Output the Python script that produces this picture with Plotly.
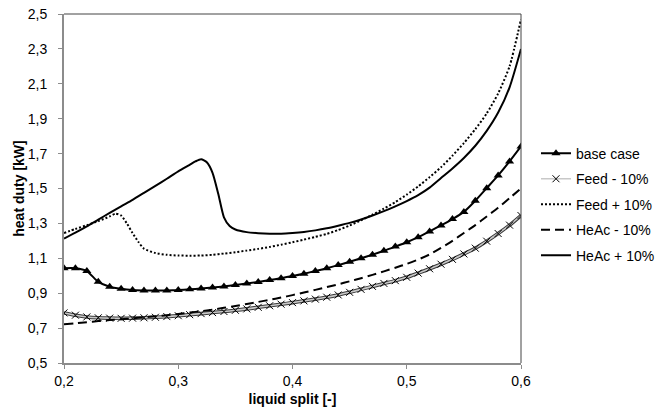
import plotly.graph_objects as go

# liquid split values (x) for the 0.01-step series
split = [round(0.20 + 0.01 * i, 2) for i in range(41)]

base_case = [1.043, 1.043, 1.027, 0.965, 0.937, 0.925, 0.918, 0.916, 0.915, 0.916,
             0.918, 0.922, 0.927, 0.933, 0.939, 0.947, 0.955, 0.964, 0.975, 0.986,
             0.999, 1.012, 1.027, 1.043, 1.061, 1.080, 1.100, 1.121, 1.143, 1.167,
             1.192, 1.221, 1.254, 1.288, 1.325, 1.366, 1.430, 1.502, 1.575, 1.655,
             1.741]

feed_minus = [0.787, 0.774, 0.764, 0.759, 0.757, 0.756, 0.757, 0.759, 0.762, 0.766,
              0.771, 0.777, 0.783, 0.789, 0.795, 0.802, 0.810, 0.819, 0.828, 0.837,
              0.846, 0.856, 0.866, 0.877, 0.890, 0.905, 0.922, 0.939, 0.956, 0.972,
              0.991, 1.015, 1.040, 1.066, 1.094, 1.125, 1.158, 1.198, 1.242, 1.290,
              1.345]

heac_minus = [0.722, 0.728, 0.734, 0.740, 0.746, 0.751, 0.756, 0.762, 0.768, 0.774,
              0.781, 0.789, 0.797, 0.806, 0.816, 0.827, 0.838, 0.850, 0.862, 0.875,
              0.889, 0.904, 0.919, 0.935, 0.951, 0.968, 0.986, 1.005, 1.025, 1.046,
              1.068, 1.093, 1.122, 1.160, 1.200, 1.245, 1.290, 1.340, 1.390, 1.445,
              1.500]

feed_plus_x = [0.20, 0.21, 0.22, 0.23, 0.24, 0.245, 0.25, 0.255, 0.26, 0.265, 0.27,
               0.28, 0.29, 0.30, 0.31, 0.32, 0.33, 0.34, 0.35, 0.36, 0.37, 0.38,
               0.39, 0.40, 0.41, 0.42, 0.43, 0.44, 0.45, 0.46, 0.47, 0.48, 0.49,
               0.50, 0.51, 0.52, 0.53, 0.54, 0.55, 0.56, 0.57, 0.58, 0.59, 0.60]
feed_plus = [1.245, 1.268, 1.290, 1.313, 1.340, 1.356, 1.345, 1.300, 1.245, 1.195, 1.155,
             1.130, 1.120, 1.116, 1.115, 1.116, 1.120, 1.127, 1.135, 1.144, 1.154, 1.165,
             1.178, 1.192, 1.207, 1.223, 1.240, 1.262, 1.288, 1.318, 1.350, 1.385, 1.422,
             1.465, 1.512, 1.565, 1.622, 1.688, 1.760, 1.840, 1.930, 2.045, 2.200, 2.470]

heac_plus_x = [0.20, 0.21, 0.22, 0.23, 0.24, 0.25, 0.26, 0.27, 0.28, 0.29, 0.30,
               0.31, 0.315, 0.32, 0.325, 0.33, 0.335, 0.34, 0.345, 0.35, 0.36, 0.37,
               0.38, 0.39, 0.40, 0.41, 0.42, 0.43, 0.44, 0.45, 0.46, 0.47, 0.48,
               0.49, 0.50, 0.51, 0.52, 0.53, 0.54, 0.55, 0.56, 0.57, 0.58, 0.59, 0.60]
heac_plus = [1.213, 1.247, 1.283, 1.322, 1.360, 1.398, 1.435, 1.475, 1.515, 1.556, 1.598,
             1.636, 1.655, 1.668, 1.650, 1.590, 1.470, 1.335, 1.285, 1.265, 1.250, 1.244,
             1.241, 1.241, 1.245, 1.251, 1.260, 1.272, 1.287, 1.303, 1.322, 1.345, 1.370,
             1.398, 1.428, 1.462, 1.505, 1.560, 1.615, 1.675, 1.745, 1.830, 1.935, 2.080,
             2.300]

x_ticks = [0.2, 0.3, 0.4, 0.5, 0.6]
y_ticks = [0.5, 0.7, 0.9, 1.1, 1.3, 1.5, 1.7, 1.9, 2.1, 2.3, 2.5]

FONT = "Liberation Sans, Arial, sans-serif"

fig = go.Figure()

fig.add_trace(go.Scatter(
    x=split, y=base_case, name="base case", mode="lines+markers",
    line=dict(color="black", width=2, shape="spline", smoothing=0.6),
    marker=dict(symbol="triangle-up", size=8, color="black"),
    legendgroup="a",
))
# dark outline under the Feed - 10% line (double-line look)
fig.add_trace(go.Scatter(
    x=split, y=feed_minus, mode="lines", showlegend=False, hoverinfo="skip",
    line=dict(color="#3a3a3a", width=3.6, shape="spline", smoothing=0.6),
    legendgroup="b",
))
fig.add_trace(go.Scatter(
    x=split, y=feed_minus, name="Feed - 10%", mode="lines+markers",
    line=dict(color="#c8c8c8", width=1.6, shape="spline", smoothing=0.6),
    marker=dict(symbol="x-thin", size=7, color="black",
                line=dict(color="black", width=1)),
    legendgroup="b",
))
fig.add_trace(go.Scatter(
    x=feed_plus_x, y=feed_plus, name="Feed + 10%", mode="lines",
    line=dict(color="black", width=2, dash="2px,2px", shape="spline", smoothing=0.6),
    legendgroup="c",
))
fig.add_trace(go.Scatter(
    x=split, y=heac_minus, name="HeAc - 10%", mode="lines",
    line=dict(color="black", width=2, dash="9px,5px", shape="spline", smoothing=0.6),
    legendgroup="d",
))
fig.add_trace(go.Scatter(
    x=heac_plus_x, y=heac_plus, name="HeAc + 10%", mode="lines",
    line=dict(color="black", width=2, shape="spline", smoothing=0.6),
    legendgroup="e",
))

fig.update_layout(
    width=663, height=412,
    margin=dict(l=64, r=142, t=14, b=49, autoexpand=False),
    paper_bgcolor="white", plot_bgcolor="white",
    separators=", ",
    font=dict(family=FONT, size=14, color="black"),
    showlegend=True,
    legend=dict(x=1.0328, y=0.6457, xanchor="left", yanchor="top",
                font=dict(family=FONT, size=14, color="black"),
                tracegroupgap=4.3, bgcolor="rgba(0,0,0,0)"),
    shapes=[
        dict(type="line", xref="paper", yref="paper", x0=0, x1=1, y0=1, y1=1,
             line=dict(color="#444444", width=1)),
        dict(type="line", xref="paper", yref="paper", x0=1, x1=1, y0=0, y1=1,
             line=dict(color="#444444", width=1)),
    ],
)

fig.update_xaxes(
    range=[0.2, 0.6], tickvals=x_ticks, tickformat=".1f",
    automargin=False,
    showgrid=False, zeroline=False,
    showline=True, linecolor="#8c8c8c", linewidth=2,
    ticks="outside", ticklen=4, tickcolor="#8c8c8c", tickwidth=1,
    ticklabelstandoff=0,
    tickfont=dict(family=FONT, size=14),
    title=dict(text="<b>liquid split [-]</b>", font=dict(family=FONT, size=14), standoff=6),
)
fig.update_yaxes(
    range=[0.5, 2.5], tickvals=y_ticks, tickformat=".1f",
    automargin=False,
    showgrid=False, zeroline=False,
    showline=True, linecolor="#8c8c8c", linewidth=2,
    ticks="outside", ticklen=4, tickcolor="#8c8c8c", tickwidth=1,
    ticklabelstandoff=8,
    tickfont=dict(family=FONT, size=14),
    title=dict(text="<b>heat duty [kW]</b>", font=dict(family=FONT, size=14), standoff=0),
)

fig.write_html("out.html", config={"displayModeBar": False},
               post_script="document.body.style.margin='0px';")
